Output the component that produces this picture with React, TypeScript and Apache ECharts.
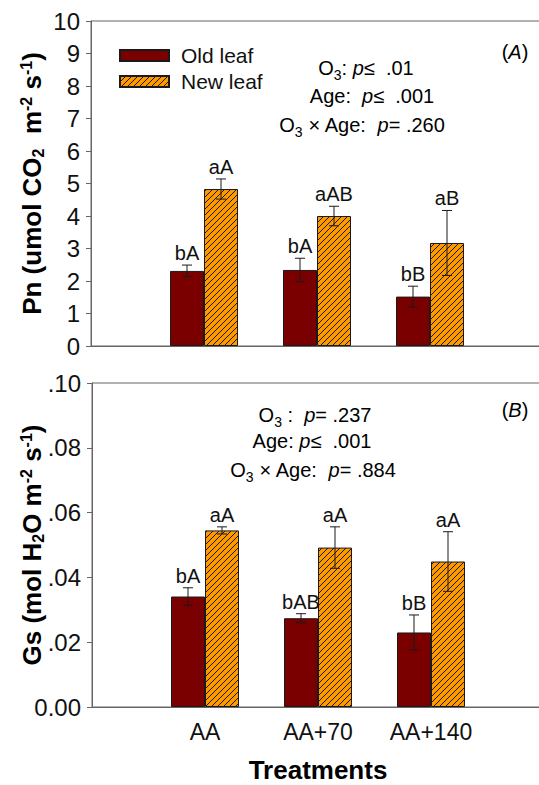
import React, { useEffect, useRef } from "react";
import * as echarts from "echarts";

const treatments = ["AA", "AA+70", "AA+140"];
const seriesNames = ["Old leaf", "New leaf"];

// Panel A: Pn
const pnOld = [2.31, 2.34, 1.52];
const pnOldErr = [0.18, 0.36, 0.32];
const pnNew = [4.83, 4.0, 3.17];
const pnNewErr = [0.31, 0.3, 1.0];
const pnOldLetters = ["bA", "bA", "bB"];
const pnNewLetters = ["aA", "aAB", "aB"];

// Panel B: Gs
const gsOld = [0.0341, 0.0274, 0.023];
const gsOldErr = [0.0027, 0.0014, 0.0054];
const gsNew = [0.0545, 0.0492, 0.0449];
const gsNewErr = [0.0011, 0.0064, 0.0092];
const gsOldLetters = ["bA", "bAB", "bB"];
const gsNewLetters = ["aA", "aA", "aA"];

const pnTicks = { min: 0, max: 10, interval: 1 };
const gsTicks = { min: 0, max: 0.1, interval: 0.02 };

const FONT = "'Liberation Sans', Arial, Helvetica, sans-serif";
const OLD_COLOR = "#7a0000";
const NEW_COLOR = "#ff9900";
const AXIS_COLOR = "#666666";
const BAR_W = 34;

function makeHatch() {
  const s = 6;
  const c = document.createElement("canvas");
  c.width = s;
  c.height = s;
  const ctx = c.getContext("2d")!;
  ctx.fillStyle = NEW_COLOR;
  ctx.fillRect(0, 0, s, s);
  ctx.strokeStyle = "#1a1a1a";
  ctx.lineWidth = 1;
  ctx.beginPath();
  ctx.moveTo(-1, s + 1);
  ctx.lineTo(s + 1, -1);
  ctx.moveTo(-1, 1);
  ctx.lineTo(1, -1);
  ctx.moveTo(s - 1, s + 1);
  ctx.lineTo(s + 1, s - 1);
  ctx.stroke();
  return { image: c, repeat: "repeat" };
}

const cats = ["", ...treatments, ""];

function pad(arr: number[]) {
  return [null, ...arr, null];
}

function errData(old: number[], oldErr: number[], nw: number[], nwErr: number[]) {
  const out: number[][] = [];
  old.forEach((v, i) => out.push([i + 1, v, oldErr[i], -1]));
  nw.forEach((v, i) => out.push([i + 1, v, nwErr[i], 1]));
  return out;
}

function makeErrRender(letters: string[]) {
  return (params: any, api: any) => {
    const idx = api.value(0);
    const mean = api.value(1);
    const err = api.value(2);
    const side = api.value(3);
    const c = api.coord([idx, mean]);
    const top = api.coord([idx, mean + err]);
    const bot = api.coord([idx, mean - err]);
    const x = c[0] + (side * BAR_W) / 2;
    const cap = 5;
    const stroke = { stroke: "#1a1a1a", lineWidth: 1 };
    return {
      type: "group",
      children: [
        { type: "line", shape: { x1: x, y1: top[1], x2: x, y2: bot[1] }, style: stroke },
        { type: "line", shape: { x1: x - cap, y1: top[1], x2: x + cap, y2: top[1] }, style: stroke },
        { type: "line", shape: { x1: x - cap, y1: bot[1], x2: x + cap, y2: bot[1] }, style: stroke },
        {
          type: "text",
          x: x,
          y: top[1] - 2,
          style: {
            text: letters[params.dataIndex],
            fontSize: 20,
            fontFamily: FONT,
            fill: "#111",
            align: "center",
            verticalAlign: "bottom",
          },
        },
      ],
    };
  };
}

const axisRich = {
  b: { fontSize: 26, fontWeight: "bold", fontFamily: FONT, color: "#000", lineHeight: 28, verticalAlign: "middle" },
  sub: { fontSize: 16, fontWeight: "bold", fontFamily: FONT, color: "#000", lineHeight: 16, verticalAlign: "bottom" },
  sup: { fontSize: 16, fontWeight: "bold", fontFamily: FONT, color: "#000", lineHeight: 16, verticalAlign: "top" },
};

const annRich = {
  t: { fontSize: 20, fontFamily: FONT, color: "#111", lineHeight: 27, verticalAlign: "middle" },
  i: { fontSize: 20, fontFamily: FONT, fontStyle: "italic", color: "#111", verticalAlign: "middle" },
  s: { fontSize: 14, fontFamily: FONT, color: "#111", verticalAlign: "bottom" },
};

function annText(x: number, y: number, text: string) {
  return {
    type: "text",
    x,
    y,
    style: { text, rich: annRich, align: "center", verticalAlign: "middle", font: `20px ${FONT}` },
  };
}

export default function App() {
  const ref = useRef<HTMLDivElement>(null);
  useEffect(() => {
    const chart = echarts.init(ref.current!, null, { renderer: "svg" });
    const hatch = makeHatch();
    const yCommon = {
      type: "value",
      axisLine: { show: true, lineStyle: { color: AXIS_COLOR } },
      axisTick: { show: true, inside: false, length: 5, lineStyle: { color: AXIS_COLOR } },
      splitLine: { show: false },
      axisLabel: { fontSize: 24, fontFamily: FONT, color: "#111", margin: 11 },
      nameLocation: "middle",
      nameRotate: 90,
      nameMoveOverlap: false,
      nameTextStyle: { rich: axisRich },
    };
    const xCommon = {
      type: "category",
      data: cats,
      boundaryGap: false,
      axisLine: { show: true, lineStyle: { color: AXIS_COLOR } },
      axisTick: { show: false },
      splitLine: { show: false },
    };
    const barItem = (color: any) => ({
      color,
      borderColor: "#1a1a1a",
      borderWidth: 1,
    });
    const gridCommon = {
      show: true,
      borderColor: AXIS_COLOR,
      borderWidth: 1,
      containLabel: false,
      outerBoundsMode: "none",
    };
    chart.setOption({
      animation: false,
      backgroundColor: "#ffffff",
      grid: [
        { ...gridCommon, left: 91, top: 21, width: 452, height: 325 },
        { ...gridCommon, left: 92, top: 383, width: 452, height: 324 },
      ],
      legend: {
        orient: "vertical",
        left: 119,
        top: 45,
        icon: "rect",
        itemWidth: 49,
        itemHeight: 11,
        itemGap: 5,
        padding: 0,
        data: seriesNames,
        textStyle: { fontSize: 21, fontFamily: FONT, color: "#111", padding: [0, 0, 0, 7] },
      },
      xAxis: [
        { ...xCommon, gridIndex: 0, axisLabel: { show: false } },
        {
          ...xCommon,
          gridIndex: 1,
          axisLabel: { show: true, fontSize: 23, fontFamily: FONT, color: "#111", margin: 13, interval: 0 },
          name: "Treatments",
          nameLocation: "middle",
          nameGap: 50,
          nameMoveOverlap: false,
          nameTextStyle: { fontSize: 26, lineHeight: 26, fontWeight: "bold", fontFamily: FONT, color: "#000" },
        },
      ],
      yAxis: [
        {
          ...yCommon,
          gridIndex: 0,
          ...pnTicks,
          nameGap: 45,
          name: "{b|Pn (umol CO}{sub|2}{b|  m}{sup|-2}{b| s}{sup|-1}{b|)}",
        },
        {
          ...yCommon,
          gridIndex: 1,
          ...gsTicks,
          nameGap: 46,
          name: "{b|Gs (mol H}{sub|2}{b|O m}{sup|-2}{b| s}{sup|-1}{b|)}",
          axisLabel: {
            ...yCommon.axisLabel,
            formatter: (v: number) => (v === 0 ? "0.00" : "." + v.toFixed(2).slice(2)),
          },
        },
      ],
      series: [
        { type: "bar", name: seriesNames[0], xAxisIndex: 0, yAxisIndex: 0, data: pad(pnOld), barWidth: BAR_W, barGap: "0%", itemStyle: barItem(OLD_COLOR) },
        { type: "bar", name: seriesNames[1], xAxisIndex: 0, yAxisIndex: 0, data: pad(pnNew), barWidth: BAR_W, barGap: "0%", itemStyle: barItem(hatch) },
        { type: "bar", name: seriesNames[0], xAxisIndex: 1, yAxisIndex: 1, data: pad(gsOld), barWidth: BAR_W, barGap: "0%", itemStyle: barItem(OLD_COLOR) },
        { type: "bar", name: seriesNames[1], xAxisIndex: 1, yAxisIndex: 1, data: pad(gsNew), barWidth: BAR_W, barGap: "0%", itemStyle: barItem(hatch) },
        {
          type: "custom",
          xAxisIndex: 0,
          yAxisIndex: 0,
          z: 5,
          data: errData(pnOld, pnOldErr, pnNew, pnNewErr),
          renderItem: makeErrRender([...pnOldLetters, ...pnNewLetters]),
        },
        {
          type: "custom",
          xAxisIndex: 1,
          yAxisIndex: 1,
          z: 5,
          data: errData(gsOld, gsOldErr, gsNew, gsNewErr),
          renderItem: makeErrRender([...gsOldLetters, ...gsNewLetters]),
        },
      ],
      graphic: [
        annText(366, 68, "{t|O}{s|3}{t|: }{i|p}{t|≤  .01}"),
        annText(372, 96, "{t|Age:  }{i|p}{t|≤  .001}"),
        annText(362, 125, "{t|O}{s|3}{t| × Age:  }{i|p}{t|= .260}"),
        annText(515, 52, "{t|(}{i|A}{t|)}"),
        annText(315, 415, "{t|O}{s|3}{t| :  }{i|p}{t|= .237}"),
        annText(312, 441, "{t|Age: }{i|p}{t|≤  .001}"),
        annText(313, 470, "{t|O}{s|3}{t| × Age:  }{i|p}{t|= .884}"),
        annText(515, 410, "{t|(}{i|B}{t|)}"),
      ],
    });
    return () => chart.dispose();
  }, []);
  return (
    <div
      ref={ref}
      style={{ position: "absolute", left: 0, top: 0, width: 539, height: 785, background: "#fff" }}
    />
  );
}
